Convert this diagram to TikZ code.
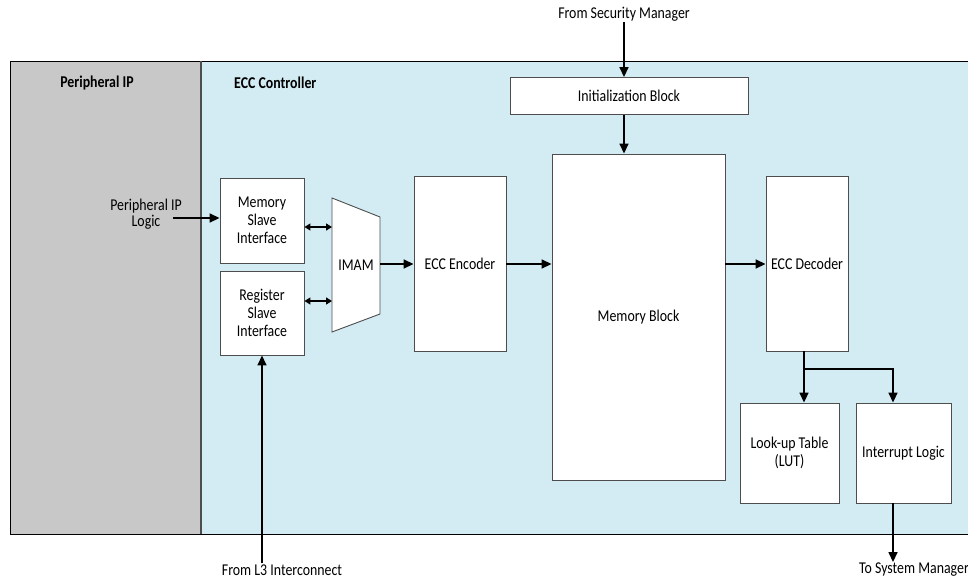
\documentclass[tikz,border=0pt]{standalone}
\usepackage{fontspec}
\setmainfont{Carlito}[FakeStretch=0.84]
\usetikzlibrary{arrows.meta}
\definecolor{ipgray}{HTML}{C8C8C8}
\definecolor{eccblue}{HTML}{D3ECF3}
\definecolor{edge}{HTML}{4D4D4D}
\newcommand{\lbl}{\fontsize{16.5}{18}\selectfont}
\newcommand{\smlbl}{\fontsize{16.5}{15.5}\selectfont}

\begin{document}
\begin{tikzpicture}[x=1pt,y=-1pt,
  box/.style={draw=edge,fill=white,line width=0.9pt,align=center,font=\lbl,inner sep=2pt},
  title/.style={font=\lbl\bfseries,inner sep=1pt},
  note/.style={font=\smlbl,align=center,inner sep=1pt},
  ar/.style={-{Triangle[length=10pt,width=9pt]},line width=1.6pt},
  dar/.style={{Triangle[length=6pt,width=7pt]}-{Triangle[length=6pt,width=7pt]},line width=1.3pt}
]
\useasboundingbox (0,0) rectangle (968,579);

\fill[ipgray] (10,61) rectangle (201,534);
\fill[eccblue] (201,61) rectangle (968,534);
\draw[line width=0.9pt] (968,61) -- (10,61) -- (10,534) -- (968,534);
\draw[edge,line width=1.2pt] (201,61) -- (201,534);

\node[title] (pip) at (97,83) {Peripheral IP};
\node[title,anchor=west] (ecc) at (233,83) {ECC Controller};

\node[box,minimum width=238pt,minimum height=37pt] (init) at (629,96) {Initialization Block};
\node[box,minimum width=84pt,minimum height=85pt] (msi) at (262,220.5) {Memory\\Slave\\Interface};
\node[box,minimum width=84pt,minimum height=84pt] (rsi) at (262,313) {Register\\Slave\\Interface};
\node[box,minimum width=92pt,minimum height=175pt] (enc) at (460,263.5) {ECC Encoder};
\node[box,minimum width=173pt,minimum height=326pt] (mem) at (638.5,317) {Memory Block};
\node[box,minimum width=82pt,minimum height=175pt] (dec) at (807,263.5) {ECC Decoder};
\node[box,minimum width=99pt,minimum height=100pt] (lut) at (789.5,453) {Look-up Table\\(LUT)};
\node[box,minimum width=95pt,minimum height=100pt] (intr) at (903.5,453) {Interrupt Logic};

\draw[draw=edge,fill=white,line width=0.9pt] (332,198) -- (380,217) -- (380,314) -- (332,332) -- cycle;
\node[font=\lbl] (imam) at (356,265) {IMAM};
\coordinate (imamA) at (332,227);
\coordinate (imamB) at (332,301);
\coordinate (imamC) at (380,264);

\node[note] (sec) at (624,14) {From Security Manager};
\node[note] (pil) at (146,214) {Peripheral IP\\Logic};
\node[note] (l3) at (282,570) {From L3 Interconnect};
\node[note] (sys) at (914,570) {To System Manager};
\coordinate (pilend) at (173,218);
\coordinate (split) at (804,369);
\coordinate (tap) at (893,369);

\draw[ar] (sec.south) -- (sec.south |- init.north);
\draw[ar] (init.south -| sec.south) -- (mem.north -| sec.south);
\draw[ar] (pilend) -- (pilend -| msi.west);
\draw[dar] (imamA -| msi.east) -- (imamA);
\draw[dar] (imamB -| rsi.east) -- (imamB);
\draw[ar] (l3.north -| rsi.south) -- (rsi.south);
\draw[ar] (imamC) -- (imamC -| enc.west);
\draw[ar] (imamC -| enc.east) -- (imamC -| mem.west);
\draw[ar] (imamC -| mem.east) -- (imamC -| dec.west);
\draw[ar] (dec.south -| split) -- (lut.north -| split);
\draw[ar] (split) -- (tap) -- (tap |- intr.north);
\draw[ar] (intr.south -| tap) -- (sys.north -| tap);
\end{tikzpicture}
\end{document}
